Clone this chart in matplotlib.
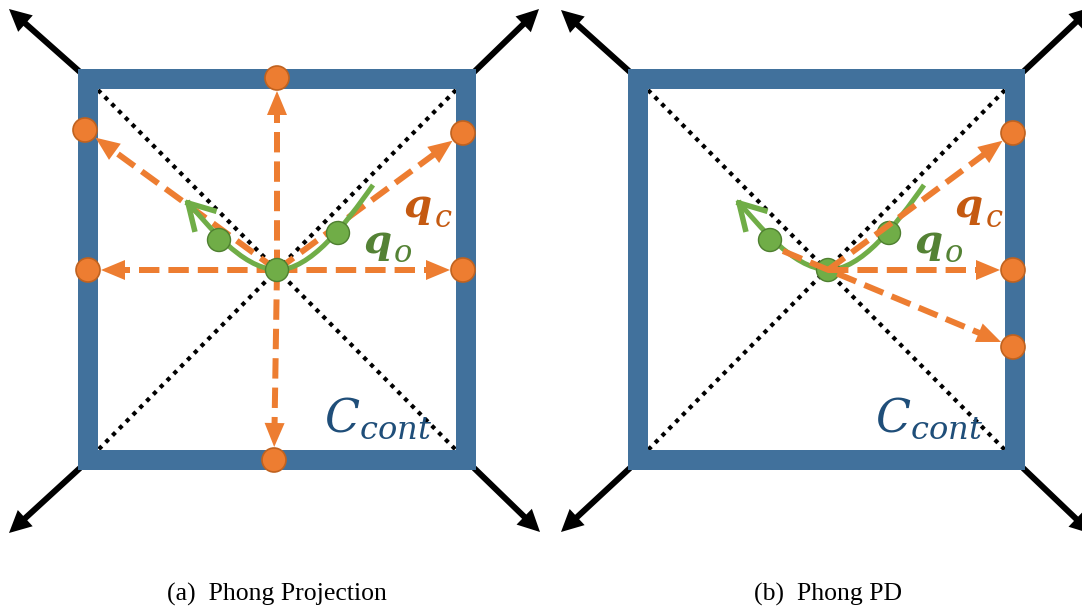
import matplotlib
matplotlib.use("Agg")
import matplotlib.pyplot as plt
import numpy as np
from matplotlib.patches import Rectangle, Circle, Polygon, PathPatch
from matplotlib.path import Path

# ---------------- data (pixel coordinates of the diagram) ----------------
panel_offsets = [0, 551]
captions = ["(a)  Phong Projection", "(b)  Phong PD"]
caption_x = [277, 828]

box_left = [88, 638]
box_right = [466, 1015]
box_top = 79
box_bottom = 460

center_pt = (277, 270)

# orange target points (absolute pixels)
orange_targets = [
    [(277, 78), (274, 460), (88, 270), (463, 270), (85, 130), (463, 133)],
    [(1013, 133), (1013, 270), (1013, 347)],
]
orange_back_ext = [None, (783, 251)]  # start of the extended line in panel (b)

# black corner arrows (start, tip) per panel
black_arrows = [
    [((80, 72), (9, 9)), ((474, 72), (539, 9)),
     ((80, 468), (9, 533)), ((474, 468), (540, 532))],
    [((630, 72), (561, 10)), ((1023, 72), (1092, 7)),
     ((630, 468), (561, 532)), ((1023, 468), (1092, 534))],
]

# green trajectory (bezier control points, panel a coordinates)
green_left = [(188, 203), (208, 224), (240, 268), (277, 270)]
green_right = [(277, 270), (310, 270), (345, 225), (373, 185)]
green_dots = [(219, 240), (277, 270), (338, 233)]

ORANGE = "#ED7D31"
ORANGE_EDGE = "#C0621F"
GREEN = "#70AD47"
GREEN_EDGE = "#4E7F30"
BLUE = "#41719C"
DARKBLUE = "#1F4E79"
QC_COL = "#C55A11"
QO_COL = "#548235"

PT = 0.72  # px -> points at dpi 100

fig = plt.figure(figsize=(10.82, 6.09), dpi=100)
ax = fig.add_axes([0, 0, 1, 1])
ax.set_xlim(0, 1082)
ax.set_ylim(609, 0)
ax.axis("off")


def arrow(p0, p1, color, width_px, head_len, head_w, dashed=False, z=3, stop=0.0):
    p0 = np.array(p0, float)
    p1 = np.array(p1, float)
    u = (p1 - p0) / np.linalg.norm(p1 - p0)
    tip = p1 - u * stop
    base = tip - u * head_len
    n = np.array([-u[1], u[0]])
    kw = dict(color=color, lw=width_px * PT, solid_capstyle="butt", zorder=z)
    if dashed:
        ax.plot([p0[0], base[0] + u[0] * 2], [p0[1], base[1] + u[1] * 2],
                dashes=(3.4, 1.5), dash_capstyle="butt", **kw)
    else:
        ax.plot([p0[0], base[0] + u[0] * 2], [p0[1], base[1] + u[1] * 2], **kw)
    poly = Polygon([tip, base + n * head_w / 2, base - n * head_w / 2],
                   closed=True, facecolor=color, edgecolor="none", zorder=z)
    ax.add_patch(poly)


for k, off in enumerate(panel_offsets):
    L, R = box_left[k], box_right[k]
    inL, inR = L + 10, R - 10
    inT, inB = box_top + 11, box_bottom - 10
    # dotted diagonals
    for (xa, ya, xb, yb) in [(inL, inT, inR, inB), (inR, inT, inL, inB)]:
        ax.plot([xa, xb], [ya, yb], color="black", lw=4.2 * PT,
                dashes=(1, 1.3), zorder=2)
    # blue border
    ax.add_patch(Rectangle((L, box_top), R - L, box_bottom - box_top, fill=False,
                           edgecolor=BLUE, lw=20 * PT, joinstyle="miter", zorder=4))
    # black corner arrows
    for s, t in black_arrows[k]:
        arrow(s, t, "black", 6, 22, 22, z=3)

    c = (center_pt[0] + off, center_pt[1])
    oz = 6 if k == 0 else 9
    # orange dashed arrows
    for tgt in orange_targets[k]:
        start = c
        if k == 1 and tgt == (1013, 347):
            start = orange_back_ext[1]
        arrow(start, tgt, ORANGE, 6, 24, 20, dashed=True, z=oz, stop=13)

    # green trajectory
    for pts in (green_left, green_right):
        P = [(x + off, y) for x, y in pts]
        path = Path(P, [Path.MOVETO, Path.CURVE4, Path.CURVE4, Path.CURVE4])
        ax.add_patch(PathPatch(path, fill=False, edgecolor=GREEN, lw=5 * PT,
                               capstyle="butt", zorder=7))
    # chevron arrow head at start of left branch
    tip = np.array([green_left[0][0] + off, green_left[0][1]], float)
    d = np.array(green_left[1], float) + np.array([off, 0]) - tip
    d /= np.linalg.norm(d)
    for ang in (np.radians(30), -np.radians(30)):
        rot = np.array([[np.cos(ang), -np.sin(ang)], [np.sin(ang), np.cos(ang)]])
        e = tip + rot @ d * 27
        ax.plot([tip[0], e[0]], [tip[1], e[1]], color=GREEN, lw=5.5 * PT,
                solid_capstyle="projecting", zorder=7)
    for gx, gy in green_dots:
        ax.add_patch(Circle((gx + off, gy), 11.5, facecolor=GREEN,
                            edgecolor=GREEN_EDGE, lw=1.0, zorder=8))
    for tx, ty in orange_targets[k]:
        ax.add_patch(Circle((tx, ty), 12, facecolor=ORANGE,
                            edgecolor=ORANGE_EDGE, lw=1.2, zorder=10))

    # labels
    ax.text(404 + off, 217, "q", color=QC_COL, fontsize=29, fontweight="bold",
            fontstyle="italic", family="DejaVu Serif", ha="left",
            va="baseline", zorder=11)
    ax.text(435 + off, 227, "c", color=QC_COL, fontsize=22,
            fontstyle="italic", family="DejaVu Serif", ha="left",
            va="baseline", zorder=11)
    ax.text(364 + off, 253, "q", color=QO_COL, fontsize=29, fontweight="bold",
            fontstyle="italic", family="DejaVu Serif", ha="left",
            va="baseline", zorder=11)
    ax.text(394 + off, 262, "o", color=QO_COL, fontsize=22,
            fontstyle="italic", family="DejaVu Serif", ha="left",
            va="baseline", zorder=11)
    ax.text(324 + off, 432, r"$C_{cont}$", color=DARKBLUE, fontsize=33,
            math_fontfamily="dejavuserif", ha="left",
            va="baseline", zorder=11)

    ax.text(caption_x[k], 601, captions[k], fontsize=18.5,
            family="Liberation Serif", ha="center", va="baseline")

fig.savefig("out.png", dpi=100)
